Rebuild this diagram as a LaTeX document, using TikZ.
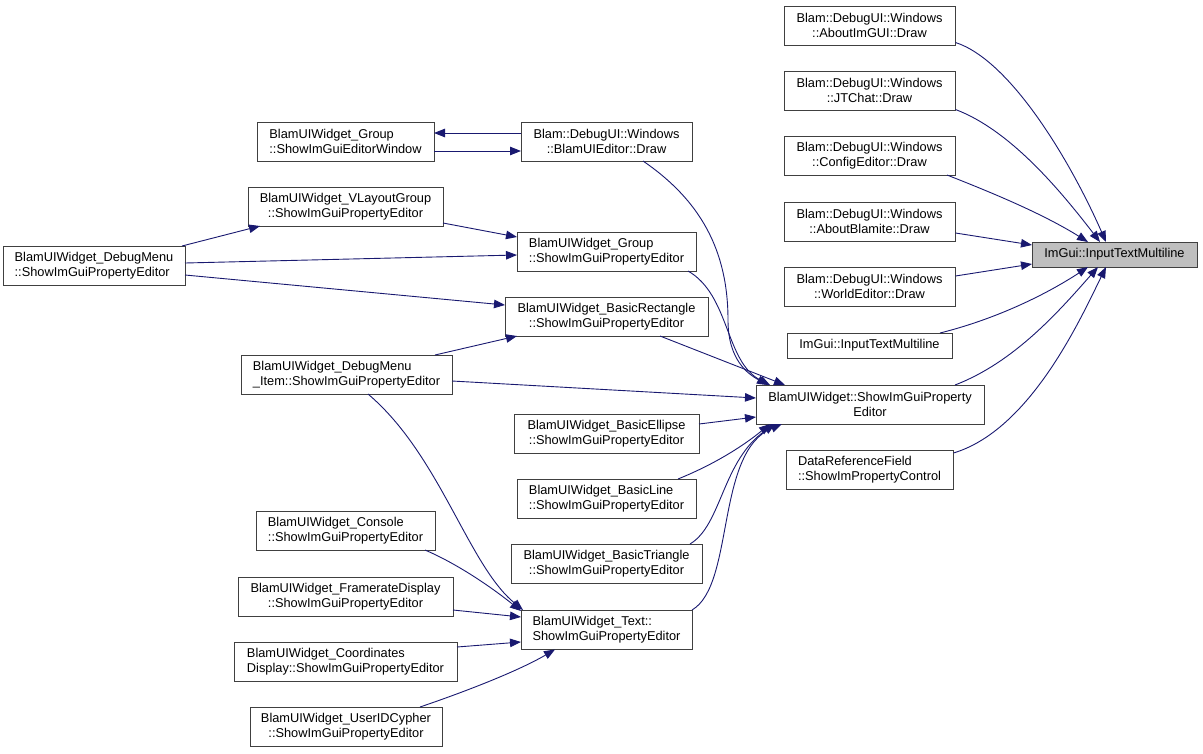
\documentclass[tikz,border=0pt]{standalone}
\usepackage{fontspec}
\setmainfont{Liberation Sans}
\usetikzlibrary{arrows.meta,calc}
\definecolor{edgecol}{HTML}{191970}
\definecolor{boxcol}{HTML}{404040}
\definecolor{tgtfill}{HTML}{BFBFBF}
\begin{document}
\begin{tikzpicture}[x=1pt,y=-1pt,
  box/.style={draw=boxcol,line width=0.9pt,fill=white,inner sep=0pt,align=center,
    font=\fontsize{12.8}{15}\selectfont,minimum height=39pt},
  lbox/.style={box,align=left},
  edge/.style={draw=edgecol,line width=0.9pt,-{Triangle[length=11pt,width=8.5pt]}}]
\useasboundingbox (0,0) rectangle (1203,753);
% right column
\node[box,fill=tgtfill,minimum width=165pt,minimum height=25pt] (tgt) at (1114.5,254.5) {ImGui::InputTextMultiline};
\node[box,minimum width=171pt] (aimg) at (869.5,25.5) {Blam::DebugUI::Windows\\::AboutImGUI::Draw};
\node[box,minimum width=171pt] (jtc) at (869.5,90.5) {Blam::DebugUI::Windows\\::JTChat::Draw};
\node[box,minimum width=171pt] (cfg) at (869.5,155.5) {Blam::DebugUI::Windows\\::ConfigEditor::Draw};
\node[box,minimum width=171pt] (abl) at (869.5,221.5) {Blam::DebugUI::Windows\\::AboutBlamite::Draw};
\node[box,minimum width=171pt] (wed) at (869.5,286.5) {Blam::DebugUI::Windows\\::WorldEditor::Draw};
\node[box,minimum width=165pt,minimum height=25pt] (itm) at (869.5,345.5) {ImGui::InputTextMultiline};
\node[box,minimum width=228pt] (buw) at (870,404.5) {BlamUIWidget::ShowImGuiProperty\\Editor};
\node[lbox,minimum width=167pt] (drf) at (869.5,469.5) {DataReferenceField\\::ShowImPropertyControl};
% middle column
\node[box,minimum width=171pt] (bue) at (606.5,141.5) {Blam::DebugUI::Windows\\::BlamUIEditor::Draw};
\node[lbox,minimum width=179pt] (grp) at (606.5,251.5) {BlamUIWidget\_Group\\::ShowImGuiPropertyEditor};
\node[box,minimum width=203pt] (rect) at (606.5,316.5) {BlamUIWidget\_BasicRectangle\\::ShowImGuiPropertyEditor};
\node[box,minimum width=185pt] (ell) at (606.5,433.5) {BlamUIWidget\_BasicEllipse\\::ShowImGuiPropertyEditor};
\node[lbox,minimum width=179pt] (line) at (606.5,498.5) {BlamUIWidget\_BasicLine\\::ShowImGuiPropertyEditor};
\node[box,minimum width=191pt] (tri) at (606.5,563.5) {BlamUIWidget\_BasicTriangle\\::ShowImGuiPropertyEditor};
\node[lbox,minimum width=171pt] (txt) at (606.5,629.5) {BlamUIWidget\_Text::\\ShowImGuiPropertyEditor};
% left columns
\node[lbox,minimum width=177pt] (edw) at (345.5,141.5) {BlamUIWidget\_Group\\::ShowImGuiEditorWindow};
\node[box,minimum width=195pt] (vlg) at (345.5,206.5) {BlamUIWidget\_VLayoutGroup\\::ShowImGuiPropertyEditor};
\node[lbox,minimum width=182pt] (dbm) at (94,265.5) {BlamUIWidget\_DebugMenu\\::ShowImGuiPropertyEditor};
\node[lbox,minimum width=211pt] (dmi) at (346.5,374.5) {BlamUIWidget\_DebugMenu\\\_Item::ShowImGuiPropertyEditor};
\node[lbox,minimum width=179pt] (con) at (345.5,530.5) {BlamUIWidget\_Console\\::ShowImGuiPropertyEditor};
\node[box,minimum width=215pt] (frd) at (345.5,596.5) {BlamUIWidget\_FramerateDisplay\\::ShowImGuiPropertyEditor};
\node[lbox,minimum width=223pt] (cod) at (345.5,661.5) {BlamUIWidget\_Coordinates\\Display::ShowImGuiPropertyEditor};
\node[box,minimum width=192pt] (uid) at (346,726.5) {BlamUIWidget\_UserIDCypher\\::ShowImGuiPropertyEditor};
% edges into target
\draw[edge] ($(aimg)+(86,17)$) .. controls (1010,60) and (1070,160) .. ($(tgt)+(-8.5,-12.5)$);
\draw[edge] ($(jtc)+(86,19)$) .. controls (1010,130) and (1060,190) .. ($(tgt)+(-14.5,-12.5)$);
\draw[edge] ($(cfg)+(77.5,19.5)$) .. controls (985,190) and (1040,212) .. ($(tgt)+(-26.5,-12.5)$);
\draw[edge] ($(abl)+(86,11.5)$) -- ($(tgt)+(-82.5,-9.5)$);
\draw[edge] ($(wed)+(86,-10.5)$) -- ($(tgt)+(-82.5,9.5)$);
\draw[edge] ($(itm)+(70.5,-12.5)$) .. controls (1000,318) and (1050,292) .. ($(tgt)+(-26.5,12.5)$);
\draw[edge] ($(buw)+(85,-19.5)$) .. controls (1015,362) and (1060,310) .. ($(tgt)+(-16.5,12.5)$);
\draw[edge] ($(drf)+(84,-16.5)$) .. controls (1030,430) and (1080,320) .. ($(tgt)+(-8.5,12.5)$);
% edges into BlamUIWidget::ShowImGuiPropertyEditor
\draw[edge] ($(bue)+(36.5,19.5)$) .. controls (700,200) and (728,250) .. (728,320) .. controls (728,360) and (748,374) .. ($(buw)+(-102,-19.5)$);
\draw[edge] ($(grp)+(81.5,19.5)$) .. controls (730,295) and (725,362) .. ($(buw)+(-100,-19.5)$);
\draw[edge] ($(rect)+(53.5,19.5)$) -- ($(buw)+(-85,-19.5)$);
\draw[edge] ($(dmi)+(105.5,6.5)$) -- ($(buw)+(-114,-6.5)$);
\draw[edge] ($(ell)+(92.5,-9.5)$) -- ($(buw)+(-114,12.5)$);
\draw[edge] ($(line)+(71.5,-19.5)$) .. controls (720,462) and (748,442) .. ($(buw)+(-100,19.5)$);
\draw[edge] ($(tri)+(83.5,-19.5)$) .. controls (722,525) and (722,460) .. ($(buw)+(-95,19.5)$);
\draw[edge] ($(txt)+(85.5,-19.5)$) .. controls (735,585) and (715,452) .. ($(buw)+(-88,19.5)$);
% left edges
\draw[edge] ($(bue)+(-85.5,-8.5)$) -- ($(edw)+(88.5,-8.5)$);
\draw[edge] ($(edw)+(88.5,9.5)$) -- ($(bue)+(-85.5,9.5)$);
\draw[edge] ($(vlg)+(97.5,16.5)$) -- ($(grp)+(-89.5,-14.5)$);
\draw[edge] ($(dbm)+(88,-19.5)$) -- ($(vlg)+(-85.5,19.5)$);
\draw[edge] ($(dbm)+(91,-2.5)$) -- ($(grp)+(-89.5,3.5)$);
\draw[edge] ($(dbm)+(91,9.5)$) -- ($(rect)+(-101.5,-11.5)$);
\draw[edge] ($(dmi)+(88.5,-19.5)$) -- ($(rect)+(-89.5,19.5)$);
\draw[edge] ($(dmi)+(21.5,19.5)$) .. controls (440,455) and (468,565) .. ($(txt)+(-83.5,-19.5)$);
\draw[edge] ($(con)+(79.5,19.5)$) .. controls (460,565) and (495,590) .. ($(txt)+(-85.5,-18.5)$);
\draw[edge] ($(frd)+(107.5,13.5)$) -- ($(txt)+(-85.5,-12.5)$);
\draw[edge] ($(cod)+(111.5,-14.5)$) -- ($(txt)+(-85.5,12.5)$);
\draw[edge] ($(uid)+(74,-19.5)$) .. controls (470,690) and (520,670) .. ($(txt)+(-51.5,20)$);
\end{tikzpicture}
\end{document}
